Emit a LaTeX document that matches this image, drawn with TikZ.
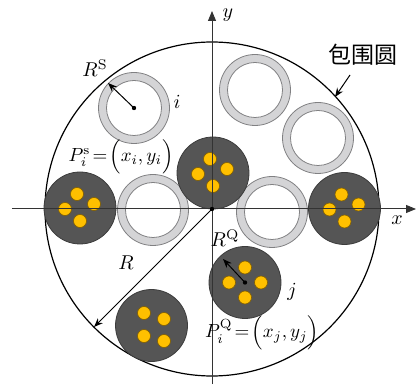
\documentclass[tikz,border=0pt]{standalone}
\usepackage{fontspec}
\newfontfamily\cjk{Noto Sans CJK SC}
\usetikzlibrary{arrows.meta}
\definecolor{ringgray}{RGB}{212,212,214}
\definecolor{ringedge}{RGB}{128,128,130}
\definecolor{discgray}{RGB}{85,85,85}
\definecolor{dotyellow}{RGB}{255,192,0}
\definecolor{dotedge}{RGB}{130,95,0}
\begin{document}
\begin{tikzpicture}[x=0.5pt,y=0.5pt,
    ring/.style={fill=ringgray,draw=ringedge,line width=0.4pt},
    hole/.style={fill=white,draw=ringedge,line width=0.4pt},
    disc/.style={fill=discgray,draw=discgray!70!black,line width=0.4pt},
    dot/.style={fill=dotyellow,draw=dotedge,line width=0.3pt},
    pointer/.style={-{Stealth[length=4.5pt,width=3.5pt]},line width=0.5pt},
    axis/.style={-{Triangle[length=5pt,width=4pt]},line width=0.5pt,black!80},
    formula/.style={inner sep=1pt,scale=0.95}]
  \useasboundingbox (-212,-175) rectangle (204,209);
  % enclosing circle
  \draw[line width=0.6pt] (0,0) circle (167);
  % hollow rings
  \foreach \cx/\cy in {-78/101,43/119,106/71,-59/-1,60/-3} {
    \draw[ring] (\cx,\cy) circle (35.5);
    \draw[hole] (\cx,\cy) circle (27.5);
  }
  % solid discs with four cores
  \foreach \cx/\cy in {-132/1,1/36,132.5/0.5} {
    \draw[disc] (\cx,\cy) circle (36);
    \foreach \dx/\dy in {-3/14,-15/-1,14/4,0/-13}
      \draw[dot] (\cx+\dx,\cy+\dy) circle (6.5);
  }
  \coordinate (qj) at (33,-73.5);
  \draw[disc] (qj) circle (36);
  \foreach \dx/\dy in {0/15,-16/0,16/0,0/-15}
    \draw[dot] ([shift={(\dx,\dy)}]qj) circle (6.5);
  \coordinate (qb) at (-60.5,-116.5);
  \draw[disc] (qb) circle (36);
  \foreach \dx/\dy in {-7.5/12.5,12.5/6.5,-7.5/-10.5,12.5/-15.5}
    \draw[dot] ([shift={(\dx,\dy)}]qb) circle (6.5);
  % axes
  \coordinate (o) at (0,0);
  \coordinate (xl) at (-200,0);
  \coordinate (xr) at (204,0);
  \coordinate (yb) at (0,-175);
  \coordinate (yt) at (0,198);
  \draw[axis] (xl) -- (xr);
  \draw[axis] (yb) -- (yt);
  % centres and radii
  \coordinate (si) at (-78,101);
  \coordinate (siedge) at (-104,126);
  \coordinate (qjedge) at (11,-50);
  \coordinate (redge) at (-118,-118);
  \coordinate (encpt) at (123,112);
  \coordinate (encfrom) at (138,134);
  \fill (si) circle (2.2);
  \fill (qj) circle (2.2);
  \fill (o) circle (2.2);
  \draw[pointer] (si) -- (siedge);
  \draw[pointer] (qj) -- (qjedge);
  \draw[pointer] (o) -- (redge);
  \draw[pointer] (encfrom) -- (encpt);
  % labels
  \node (rs) at (-117,141) {$R^{\mathrm{S}}$};
  \node (li) at (-35,107) {$i$};
  \node[formula] (ps) at (-91,52) {$P_i^{\mathrm{s}}\!=\!\Bigl(x_i,y_i\Bigr)$};
  \node (enc) at (151,154) {\cjk\fontsize{11.5}{12}\selectfont 包围圆};
  \node (ly) at (16,194) {$y$};
  \node (lx) at (185,-11) {$x$};
  \node (lr) at (-86,-54) {$R$};
  \node (rq) at (13,-29) {$R^{\mathrm{Q}}$};
  \node (lj) at (80,-83) {$j$};
  \node[formula] (pq) at (50,-124) {$P_i^{\mathrm{Q}}\!=\!\Bigl(x_j,y_j\Bigr)$};
\end{tikzpicture}
\end{document}
